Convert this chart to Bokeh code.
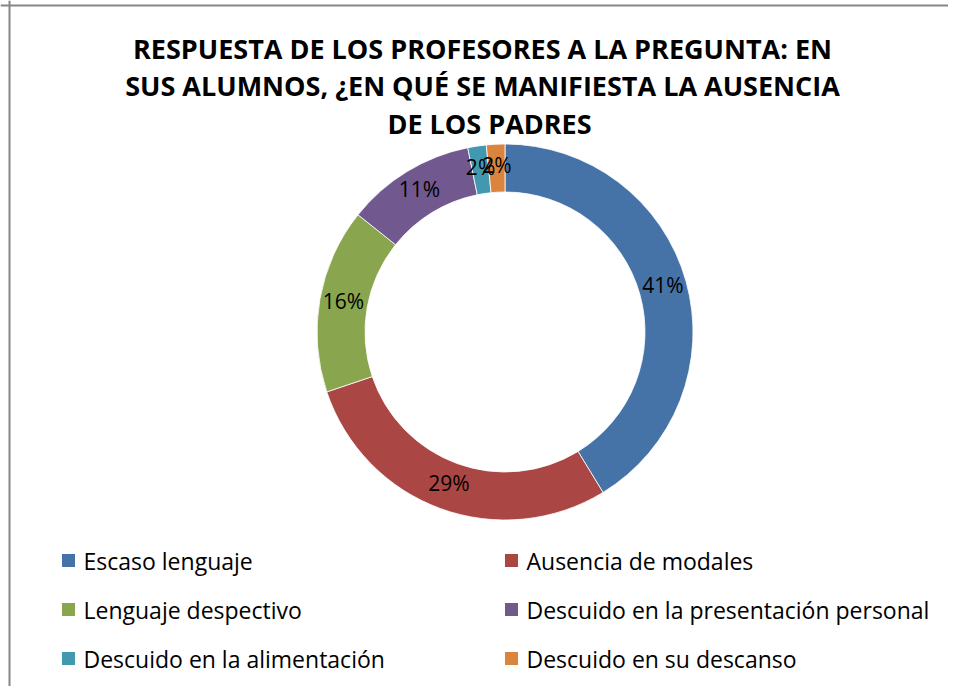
import math
from bokeh.plotting import figure
from bokeh.models import Range1d, Span, ColumnDataSource
from bokeh.core.properties import value
from bokeh.embed import file_html
from bokeh.resources import INLINE

# ---- data ----
categories = ["Escaso lenguaje", "Ausencia de modales", "Lenguaje despectivo",
              "Descuido en la presentación personal", "Descuido en la alimentación",
              "Descuido en su descanso"]
counts = [26, 18, 10, 7, 1, 1]
colors = ["#4572A7", "#AA4643", "#89A54E", "#71588F", "#4198AF", "#DB843D"]
title_lines = ["RESPUESTA DE LOS PROFESORES  A LA PREGUNTA:  EN",
               "SUS ALUMNOS, ¿EN QUÉ SE MANIFIESTA  LA  AUSENCIA",
               "DE LOS PADRES"]

# ---- layout constants ----
W, H = 948, 686
CX, CY = 504.5, 354.5
R_OUT, R_IN = 188, 140
LABEL_DY = 3
FONT = "Open Sans"

p = figure(width=W, height=H, x_range=Range1d(0, W), y_range=Range1d(0, H),
           output_backend="svg", toolbar_location=None, min_border=0)
p.axis.visible = False
p.grid.visible = False
p.outline_line_color = None
p.background_fill_color = "white"
p.border_fill_color = "white"

total = sum(counts)
starts, ends, mids, labels = [], [], [], []
cum = 0
for c in counts:
    a0 = 2 * math.pi * cum / total
    cum += c
    a1 = 2 * math.pi * cum / total
    starts.append(math.pi / 2 - a0)
    ends.append(math.pi / 2 - a1)
    mids.append(math.pi / 2 - (a0 + a1) / 2)
    labels.append(f"{round(100 * c / total)}%")

src = ColumnDataSource(dict(start=starts, end=ends, color=colors))
p.annular_wedge(x=CX, y=CY, inner_radius=R_IN, outer_radius=R_OUT,
                start_angle="start", end_angle="end", direction="clock",
                fill_color="color", line_color="white", line_width=0.8, source=src)

r_lab = (R_IN + R_OUT) / 2
lx = [CX + r_lab * math.cos(m) for m in mids]
ly = [CY + r_lab * math.sin(m) + LABEL_DY for m in mids]
p.text(x=lx, y=ly, text=labels, text_align="center", text_baseline="middle",
       text_font=value(FONT), text_font_size="21px", text_color="black")

# title
ty = [638.5, 601, 563]
p.text(x=[489] * 3, y=ty, text=title_lines, text_align="center", text_baseline="middle",
       text_font=value(FONT), text_font_style="bold", text_font_size="27px",
       text_color="black")

# legend
col_sq = [68, 511]
col_tx = [83, 526]
row_y = [126, 77, 28]
sq_x, sq_y, tx_x, tx_y = [], [], [], []
for i, cat in enumerate(categories):
    r, c = divmod(i, 2)
    sq_x.append(col_sq[c]); sq_y.append(row_y[r])
    tx_x.append(col_tx[c]); tx_y.append(row_y[r])
p.rect(x=sq_x, y=sq_y, width=13, height=13, fill_color=colors, line_color=None)
p.text(x=tx_x, y=tx_y, text=categories, text_align="left", text_baseline="middle",
       text_font=value(FONT), text_font_size="23px", text_color="black")

# chart-area border (top and left visible in reference)
p.add_layout(Span(location=9, dimension="height", line_color="#868686", line_width=2))
p.add_layout(Span(location=681, dimension="width", line_color="#868686", line_width=2))

open("out.html", "w").write(file_html(p, INLINE))
